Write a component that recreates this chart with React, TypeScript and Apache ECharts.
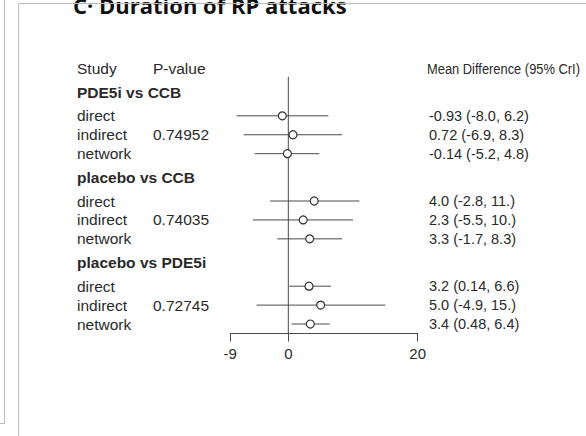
import React, { useEffect, useRef } from "react";
import * as echarts from "echarts";

// ---------- data ----------
const titleText = "C· Duration of RP attacks";
const headerLabels = ["Study", "P-value", "Mean Difference (95% CrI)"];
const groups = ["PDE5i vs CCB", "placebo vs CCB", "placebo vs PDE5i"];
const studyTypes = ["direct", "indirect", "network", "direct", "indirect", "network", "direct", "indirect", "network"];
const pValues = ["", "0.74952", "", "", "0.74035", "", "", "0.72745", ""];
const means = [-0.93, 0.72, -0.14, 4.0, 2.3, 3.3, 3.2, 5.0, 3.4];
const lowers = [-8.0, -6.9, -5.2, -2.8, -5.5, -1.7, 0.14, -4.9, 0.48];
const uppers = [6.2, 8.3, 4.8, 11, 10, 8.3, 6.6, 15, 6.4];
const ciLabels = [
  "-0.93 (-8.0, 6.2)", "0.72 (-6.9, 8.3)", "-0.14 (-5.2, 4.8)",
  "4.0 (-2.8, 11.)", "2.3 (-5.5, 10.)", "3.3 (-1.7, 8.3)",
  "3.2 (0.14, 6.6)", "5.0 (-4.9, 15.)", "3.4 (0.48, 6.4)",
];
const xTicks = [-9, 0, 20];

// ---------- layout (row positions in row units) ----------
const headerRow = 0;
const groupRows = [1.25, 5.75, 10.25];
const rowPos = [2.5, 3.5, 4.5, 7, 8, 9, 11.5, 12.5, 13.5];
const zeroLineTop = 0.44;
const yMax = 14;

const FONT = "'Liberation Sans', Arial, sans-serif";
const TEXT = "#2a2a2a";
const LINE = "#4a4a4a";
const STUDY_X = 77;
const P_X = 153;
const CI_X = 429;
const CI_HEADER_X = 427;
const LEFT_FONT = `15.5px ${FONT}`;
const LEFT_BOLD = `bold 15.5px ${FONT}`;
const RIGHT_FONT = `14.5px ${FONT}`;

export default function App() {
  const ref = useRef<HTMLDivElement>(null);
  useEffect(() => {
    if (!ref.current) return;
    const chart = echarts.init(ref.current, null, { renderer: "svg" });

    const textRows: any[] = [];
    textRows.push({ value: [0, headerRow], kind: 0, idx: 0 });
    groups.forEach((g, i) => textRows.push({ value: [0, groupRows[i]], kind: 1, idx: i }));
    rowPos.forEach((p, i) => textRows.push({ value: [0, p], kind: 2, idx: i }));

    const forestData = means.map((m, i) => [m, rowPos[i], lowers[i], uppers[i]]);

    const option: any = {
      animation: false,
      backgroundColor: "#fff",
      grid: { left: 230.1, right: 586 - 417.7, top: 68.5, height: 265, containLabel: false },
      xAxis: {
        type: "value",
        min: -9,
        max: 20,
        position: "bottom",
        axisLine: { show: true, onZero: false, lineStyle: { color: LINE, width: 1 } },
        axisTick: { show: true, customValues: xTicks, length: 8, lineStyle: { color: LINE } },
        axisLabel: { customValues: xTicks, fontSize: 15, color: TEXT, fontFamily: FONT, margin: 12 },
        splitLine: { show: false },
      },
      yAxis: {
        type: "value",
        min: 0,
        max: yMax,
        inverse: true,
        show: false,
        splitLine: { show: false },
      },
      graphic: [
        { type: "line", shape: { x1: 4.5, y1: 0, x2: 4.5, y2: 423.5 }, style: { stroke: "#bbb", lineWidth: 1 }, z: 10 },
        { type: "line", shape: { x1: 0, y1: 423.5, x2: 4.5, y2: 423.5 }, style: { stroke: "#bbb", lineWidth: 1 }, z: 10 },
        { type: "line", shape: { x1: 18.5, y1: 3.5, x2: 18.5, y2: 436 }, style: { stroke: "#bbb", lineWidth: 1 }, z: 10 },
        { type: "text", x: 73, y: 5, style: { text: titleText, fill: "#111", font: "bold 22px 'Open Sans', sans-serif", textVerticalAlign: "middle" }, z: 5 },
        { type: "line", shape: { x1: 18.5, y1: 3.5, x2: 586, y2: 3.5 }, style: { stroke: "#bbb", lineWidth: 1 }, z: 10 },
      ],
      series: [
        {
          type: "line",
          data: [[0, zeroLineTop], [0, yMax]],
          symbol: "none",
          lineStyle: { color: LINE, width: 1 },
          silent: true,
          z: 1,
        },
        {
          type: "custom",
          data: forestData,
          clip: false,
          encode: { x: [0, 2, 3], y: 1 },
          z: 3,
          renderItem: (params: any, api: any) => {
            const y = api.value(1);
            const p1 = api.coord([api.value(2), y]);
            const p2 = api.coord([api.value(3), y]);
            const c = api.coord([api.value(0), y]);
            return {
              type: "group",
              children: [
                { type: "line", shape: { x1: p1[0], y1: p1[1], x2: p2[0], y2: p2[1] }, style: { stroke: LINE, lineWidth: 1 } },
                { type: "circle", shape: { cx: c[0], cy: c[1], r: 4 }, style: { fill: "#fff", stroke: "#333", lineWidth: 1.2 } },
              ],
            };
          },
        },
        {
          type: "custom",
          data: textRows,
          clip: false,
          encode: { x: 0, y: 1 },
          z: 4,
          renderItem: (params: any, api: any) => {
            const item = textRows[params.dataIndex];
            const yy = api.coord([0, api.value(1)])[1];
            const base = { fill: TEXT, textVerticalAlign: "middle", textAlign: "left" };
            const children: any[] = [];
            if (item.kind === 0) {
              children.push({ type: "text", x: STUDY_X, y: yy, style: { ...base, text: headerLabels[0], font: LEFT_FONT } });
              children.push({ type: "text", x: P_X, y: yy, style: { ...base, text: headerLabels[1], font: LEFT_FONT } });
              children.push({ type: "text", x: CI_HEADER_X, y: yy, scaleX: 0.86, style: { ...base, text: headerLabels[2], font: `15px ${FONT}` } });
            } else if (item.kind === 1) {
              children.push({ type: "text", x: STUDY_X, y: yy, style: { ...base, text: groups[item.idx], font: LEFT_BOLD } });
            } else {
              const i = item.idx;
              children.push({ type: "text", x: STUDY_X, y: yy, style: { ...base, text: studyTypes[i], font: LEFT_FONT } });
              if (pValues[i]) children.push({ type: "text", x: P_X, y: yy, style: { ...base, text: pValues[i], font: LEFT_FONT } });
              children.push({ type: "text", x: CI_X, y: yy, style: { ...base, text: ciLabels[i], font: RIGHT_FONT } });
            }
            return { type: "group", children };
          },
        },
      ],
    };
    chart.setOption(option);
    return () => chart.dispose();
  }, []);
  return (
    <div
      ref={ref}
      style={{ position: "fixed", left: 0, top: 0, width: 586, height: 436, background: "#fff" }}
    />
  );
}
